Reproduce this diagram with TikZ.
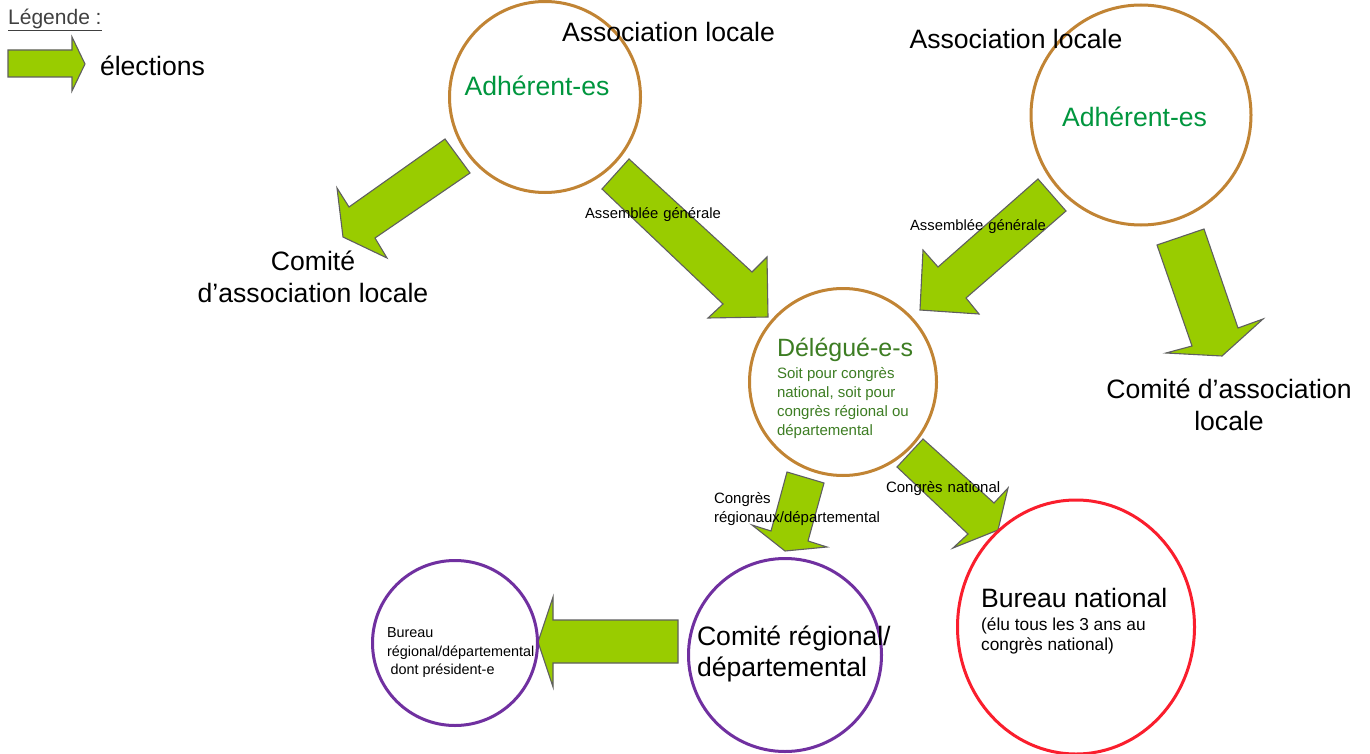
\documentclass[tikz,border=0pt]{standalone}
\usepackage{fontspec}
\usetikzlibrary{shapes.geometric}
\setmainfont{Liberation Sans}
\definecolor{ringbrown}{RGB}{193,132,52}
\definecolor{ringpurple}{RGB}{112,48,160}
\definecolor{ringred}{RGB}{250,30,45}
\definecolor{arrowgreen}{RGB}{153,204,0}
\definecolor{arrowedge}{RGB}{95,95,95}
\definecolor{adhgreen}{RGB}{0,150,62}
\definecolor{delgreen}{RGB}{61,125,35}
\definecolor{legendgray}{RGB}{64,64,64}
\newcommand\fsbig{\fontsize{26.6}{32}\selectfont}
\newcommand\fsmid{\fontsize{17.3}{20}\selectfont}
\newcommand\fssmall{\fontsize{15}{19.5}\selectfont}
\tikzset{
  ring/.style={circle, draw, line width=3pt, inner sep=0pt, fill=none},
  blockarrow/.style={fill=arrowgreen, draw=arrowedge, line width=1.1pt, line join=miter},
  lbl/.style={inner sep=0pt, outer sep=0pt, font=\fsbig, text=black},
  smalllbl/.style={inner sep=0pt, outer sep=0pt, font=\fssmall, text=black},
}
\begin{document}
\begin{tikzpicture}[x=1pt,y=-1pt]
\useasboundingbox[fill=white] (0,0) rectangle (1370,754);

% ---- block arrows ----
% legend
\draw[blockarrow] (8,50) -- (72,50) -- (72,37) -- (85,64) -- (72,91) -- (72,77) -- (8,77) -- cycle;
% top-left circle -> Comite (left)
\draw[blockarrow] (445,139) -- (470,173) -- (375,238) -- (387,258) -- (343,237) -- (337,188) -- (349,207) -- cycle;
% top-left circle -> Delegues
\draw[blockarrow] (629,159) -- (752,272) -- (767,257) -- (768,317) -- (708,318) -- (723,304) -- (602,189) -- cycle;
% right circle -> Delegues
\draw[blockarrow] (1038,179) -- (1066,211) -- (966,298) -- (979,314) -- (920,310) -- (923,250) -- (938,267) -- cycle;
% right circle -> Comite (right)
\draw[blockarrow] (1157,245) -- (1204,229) -- (1238,328) -- (1263,319) -- (1222,356) -- (1166,353) -- (1192,346) -- cycle;
% Delegues -> Comite regional
\draw[blockarrow] (787,472) -- (824,483) -- (808,541) -- (827,547) -- (785,551) -- (752,525) -- (771,531) -- cycle;
% Delegues -> Bureau national
\draw[blockarrow] (923,439) -- (994,503) -- (1008,488) -- (998,530) -- (953,548) -- (968,534) -- (897,467) -- cycle;
% Comite regional -> Bureau regional
\draw[blockarrow] (678,620) -- (678,663) -- (553,663) -- (553,687) -- (538,642) -- (553,597) -- (553,620) -- cycle;

% ---- circles ----
\node[ring, draw=ringbrown, minimum size=191pt] (adhL) at (545,97) {};
\node[ring, draw=ringbrown, minimum size=220pt] (adhR) at (1141,115) {};
\node[ring, draw=ringbrown, minimum size=187pt] (deleg) at (843,382) {};
\node[ring, draw=ringpurple, minimum size=193pt] (comreg) at (785,655) {};
\node[ring, draw=ringpurple, minimum size=165pt] (bureg) at (455,643) {};
\node[ellipse, draw=ringred, line width=3pt, inner sep=0pt, minimum width=237pt, minimum height=254pt] (bunat) at (1076,627) {};

% ---- legend ----
\node[inner sep=0pt, anchor=west, font=\fontsize{21}{24}\selectfont, text=legendgray] (legtitle) at (8,20) {\underline{Légende :}};
\node[lbl, anchor=west] (legel) at (100,66) {élections};

% ---- texts ----
\node[lbl] (assocL) at (668.5,32) {Association locale};
\node[lbl] (assocR) at (1016,39) {Association locale};
\node[lbl, text=adhgreen] (adhLt) at (537,86) {Adhérent-es};
\node[lbl, text=adhgreen] (adhRt) at (1134.5,117) {Adhérent-es};
\node[lbl, align=center] (comL) at (313,277) {Comité\\d’association locale};
\node[lbl, align=center] (comR) at (1229,405) {Comité d’association\\locale};
\node[smalllbl, font=\fontsize{14.8}{18}\selectfont] (agL) at (653,215) {Assemblée\hspace{5pt}générale};
\node[smalllbl, font=\fontsize{14.8}{18}\selectfont] (agR) at (978,227) {Assemblée\hspace{5pt}générale};
\node[lbl, anchor=west, font=\fontsize{25}{30}\selectfont, text=delgreen] (delt) at (777,350) {Délégué-e-s};
\node[smalllbl, anchor=west, align=left, font=\fontsize{15}{18.7}\selectfont, text=delgreen] (dels) at (777,403)
  {Soit pour congrès\\national, soit pour\\congrès régional ou\\départemental};
\node[smalllbl, anchor=west, align=left] (cregl) at (714,509) {Congrès\\régionaux/départemental};
\node[smalllbl, anchor=west] (cnatl) at (886,489) {Congrès\hspace{5pt}national};
\node[lbl, anchor=west, align=left, font=\fontsize{26.6}{31}\selectfont] (comregt) at (697,654) {Comité régional/\\départemental};
\node[smalllbl, anchor=west, align=left, font=\fontsize{14.4}{18.5}\selectfont] (buregt) at (387,653)
  {Bureau\\régional/départemental\\\hspace{3.5pt}dont président-e};
\node[lbl, anchor=west] (bunatt) at (981,598) {Bureau national};
\node[inner sep=0pt, anchor=west, align=left, font=\fsmid] (bunats) at (981,636) {(élu tous les 3 ans au\\congrès national)};
\end{tikzpicture}
\end{document}
